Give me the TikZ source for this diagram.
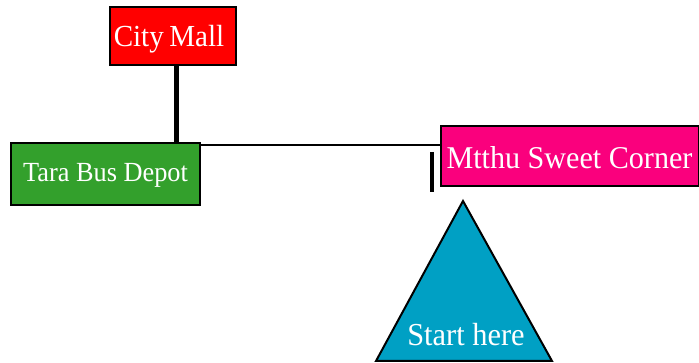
\documentclass[tikz,border=0pt]{standalone}
\usepackage{fontspec}
\setmainfont{Liberation Serif}[FakeStretch=0.95]
\definecolor{cmred}{RGB}{255,0,0}
\definecolor{tgreen}{RGB}{51,160,44}
\definecolor{mpink}{RGB}{250,0,125}
\definecolor{sblue}{RGB}{0,160,196}
\begin{document}
\begin{tikzpicture}[x=1pt,y=-1pt,
  box/.style={draw=black,line width=2pt,text=white,inner sep=0pt,anchor=center,text depth=0pt},
  conn/.style={draw=black,line width=2pt}]
\useasboundingbox (0,0) rectangle (699,363);
\node[box,fill=cmred,minimum width=126pt,minimum height=58pt,font=\fontsize{30.6}{34}\selectfont,text height=21pt] (cm) at (173,36) {City\hspace{0.18em}Mall\hspace*{8pt}};
\node[box,fill=tgreen,minimum width=189pt,minimum height=62pt,font=\fontsize{27.7}{30}\selectfont,text height=16pt] (tara) at (105.5,174) {Tara Bus Depot};
\node[box,fill=mpink,minimum width=258pt,minimum height=60pt,font=\fontsize{31.7}{34}\selectfont,text height=26pt] (mtthu) at (569.5,156) {Mtthu Sweet Corner};
\coordinate (apex) at (463,201);
\coordinate (bl) at (376,361);
\coordinate (br) at (552,361);
\filldraw[fill=sblue,draw=black,line width=2pt,line join=miter] (apex) -- (br) -- (bl) -- cycle;
\node[text=white,font=\fontsize{32}{34}\selectfont,inner sep=0pt,text height=21pt,text depth=0pt] (start) at (466,335.5) {Start here};
\draw[line width=5pt] ([xshift=3pt]cm.south) -- ([xshift=3pt]cm.south |- tara.north);
\draw[conn] ([yshift=-3pt]tara.north east) -- ([yshift=-3pt]tara.north east -| mtthu.west);
\coordinate (tickA) at (432,152);
\coordinate (tickB) at (432,192);
\draw[line width=4pt] (tickA) -- (tickB);
\end{tikzpicture}
\end{document}
